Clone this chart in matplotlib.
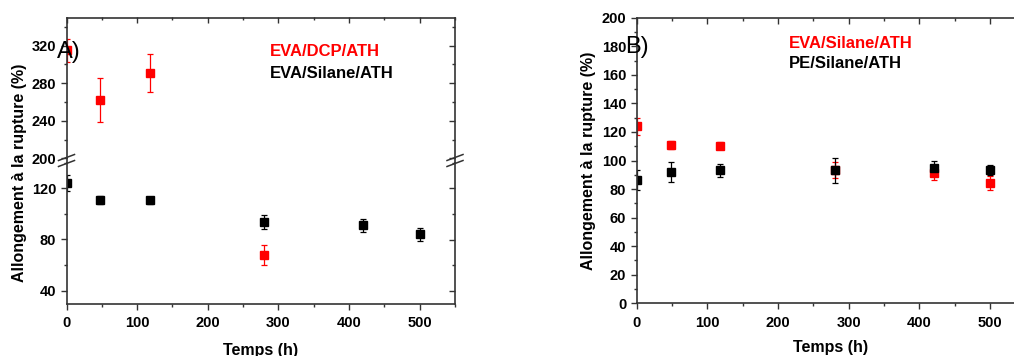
import matplotlib
matplotlib.use('Agg')
import matplotlib.pyplot as plt
from matplotlib.lines import Line2D
from matplotlib.ticker import MultipleLocator

plt.rcParams['font.family'] = ['Liberation Sans', 'DejaVu Sans']
plt.rcParams['font.weight'] = 'bold'
plt.rcParams['axes.labelweight'] = 'bold'

# Data
temps = [0, 48, 118, 280, 420, 500]
temps_dcp = [0, 48, 118, 280]
eva_dcp = [315, 262, 291, 68]
eva_dcp_err = [12, 23.5, 20.5, 8]
eva_silane = [124, 111, 110.5, 93.5, 91, 84]
eva_silane_err = [6, 3, 2.5, 5.5, 5, 5]
pe_silane = [86, 92, 93, 93, 95, 93.5]
pe_silane_err = [7, 7, 4.5, 8.5, 4.5, 3.5]

W, H = 1014, 356
fig = plt.figure(figsize=(W / 100, H / 100), dpi=100)

def fx(px):
    return px / W

def fy(py):
    return 1 - py / H

spine_col = '#333333'

def style(ax, top=True, bottom=True):
    for s in ax.spines.values():
        s.set_color(spine_col)
        s.set_linewidth(1.2)
    ax.tick_params(axis='both', which='both', labelsize=10.5, color=spine_col)
    ax.tick_params(axis='both', which='major', length=4.5, width=1)
    ax.tick_params(axis='both', which='minor', length=2.5, width=1)
    ax.tick_params(axis='y', which='both', direction='out', left=True, right=False, pad=3)
    ax.tick_params(axis='x', which='both', direction='out', bottom=bottom, top=False,
                   labelbottom=bottom, pad=4.5)
    ax.xaxis.set_major_locator(MultipleLocator(100))
    ax.xaxis.set_minor_locator(MultipleLocator(50))
    ax.set_xlim(0, 550)
    # mirrored ticks pointing inward on the right and top
    sec = ax.secondary_yaxis('right')
    sec.tick_params(axis='y', which='both', direction='in', labelright=False, color=spine_col)
    sec.tick_params(which='major', length=4.5, width=1)
    sec.tick_params(which='minor', length=2.5, width=1)
    sec.spines['right'].set_visible(False)
    if top:
        sx = ax.secondary_xaxis('top')
        sx.tick_params(axis='x', which='both', direction='in', labeltop=False, color=spine_col)
        sx.tick_params(which='major', length=4.5, width=1)
        sx.tick_params(which='minor', length=2.5, width=1)
        sx.spines['top'].set_visible(False)
        sx.xaxis.set_major_locator(MultipleLocator(100))
        sx.xaxis.set_minor_locator(MultipleLocator(50))
    return sec

def plot_series(ax, x, y, err, color):
    ax.errorbar(x, y, yerr=err, fmt='s', color=color, ms=5.5, elinewidth=0.9,
                capsize=2.2, capthick=0.9, clip_on=True)

# ---------- Panel A (broken y axis) ----------
axl = 66.5
axr = 455
ax_up = fig.add_axes([fx(axl), fy(158.3), fx(axr - axl), (158.3 - 17.5) / H])
ax_lo = fig.add_axes([fx(axl), fy(303.5), fx(axr - axl), (303.5 - 162.7) / H])

for ax in (ax_up, ax_lo):
    plot_series(ax, temps_dcp, eva_dcp, eva_dcp_err, '#ff0000')
    plot_series(ax, temps, eva_silane, eva_silane_err, 'black')

ax_up.set_ylim(200, 350)
ax_lo.set_ylim(30, 140)
s1 = style(ax_up, top=True, bottom=False)
s2 = style(ax_lo, top=False, bottom=True)
ax_up.spines['bottom'].set_visible(False)
ax_lo.spines['top'].set_visible(False)
for a in (ax_up, s1, ax_lo, s2):
    a.yaxis.set_major_locator(MultipleLocator(40))
    a.yaxis.set_minor_locator(MultipleLocator(20))
ax_lo.set_yticks([40, 80, 120])
s2.set_yticks([40, 80, 120])

# spine continuation through the break and break marks
for xs in (axl, axr):
    fig.add_artist(Line2D([fx(xs), fx(xs)], [fy(158.3), fy(162.7)], color=spine_col, lw=1.2))
    for yb in (157.5, 163.5):
        fig.add_artist(Line2D([fx(xs - 8), fx(xs + 8)], [fy(yb + 3), fy(yb - 3)],
                              color=spine_col, lw=1.1))

ax_lo.set_xlabel('Temps (h)', fontsize=11.5, labelpad=9)
fig.text(fx(20), fy(173), 'Allongement à la rupture (%)', rotation=90,
         ha='center', va='center', fontsize=11.5, fontweight='bold')

fig.text(fx(57), fy(52), 'A)', fontsize=17, fontweight='normal', va='center', ha='left')
fig.text(fx(270), fy(52), 'EVA/DCP/ATH', color='#ff0000', fontsize=12, va='center')
fig.text(fx(270), fy(73), 'EVA/Silane/ATH', color='black', fontsize=12, va='center')

# ---------- Panel B ----------
bl = 636.7
ax_b = fig.add_axes([fx(bl), fy(303.3), fx(388.7), (303.3 - 17.7) / H])
plot_series(ax_b, temps, eva_silane, eva_silane_err, '#ff0000')
plot_series(ax_b, temps, pe_silane, pe_silane_err, 'black')
ax_b.set_ylim(0, 200)
s3 = style(ax_b, top=True, bottom=True)
for a in (ax_b, s3):
    a.yaxis.set_major_locator(MultipleLocator(20))
    a.yaxis.set_minor_locator(MultipleLocator(10))
ax_b.set_xlabel('Temps (h)', fontsize=11.5, labelpad=7)
ax_b.set_ylabel('Allongement à la rupture (%)', fontsize=11.5, labelpad=4)

fig.text(fx(625), fy(47), 'B)', fontsize=17, fontweight='normal', va='center', ha='left')
fig.text(fx(789), fy(43), 'EVA/Silane/ATH', color='#ff0000', fontsize=12, va='center')
fig.text(fx(789), fy(63), 'PE/Silane/ATH', color='black', fontsize=12, va='center')

fig.savefig('out.png', dpi=100)
